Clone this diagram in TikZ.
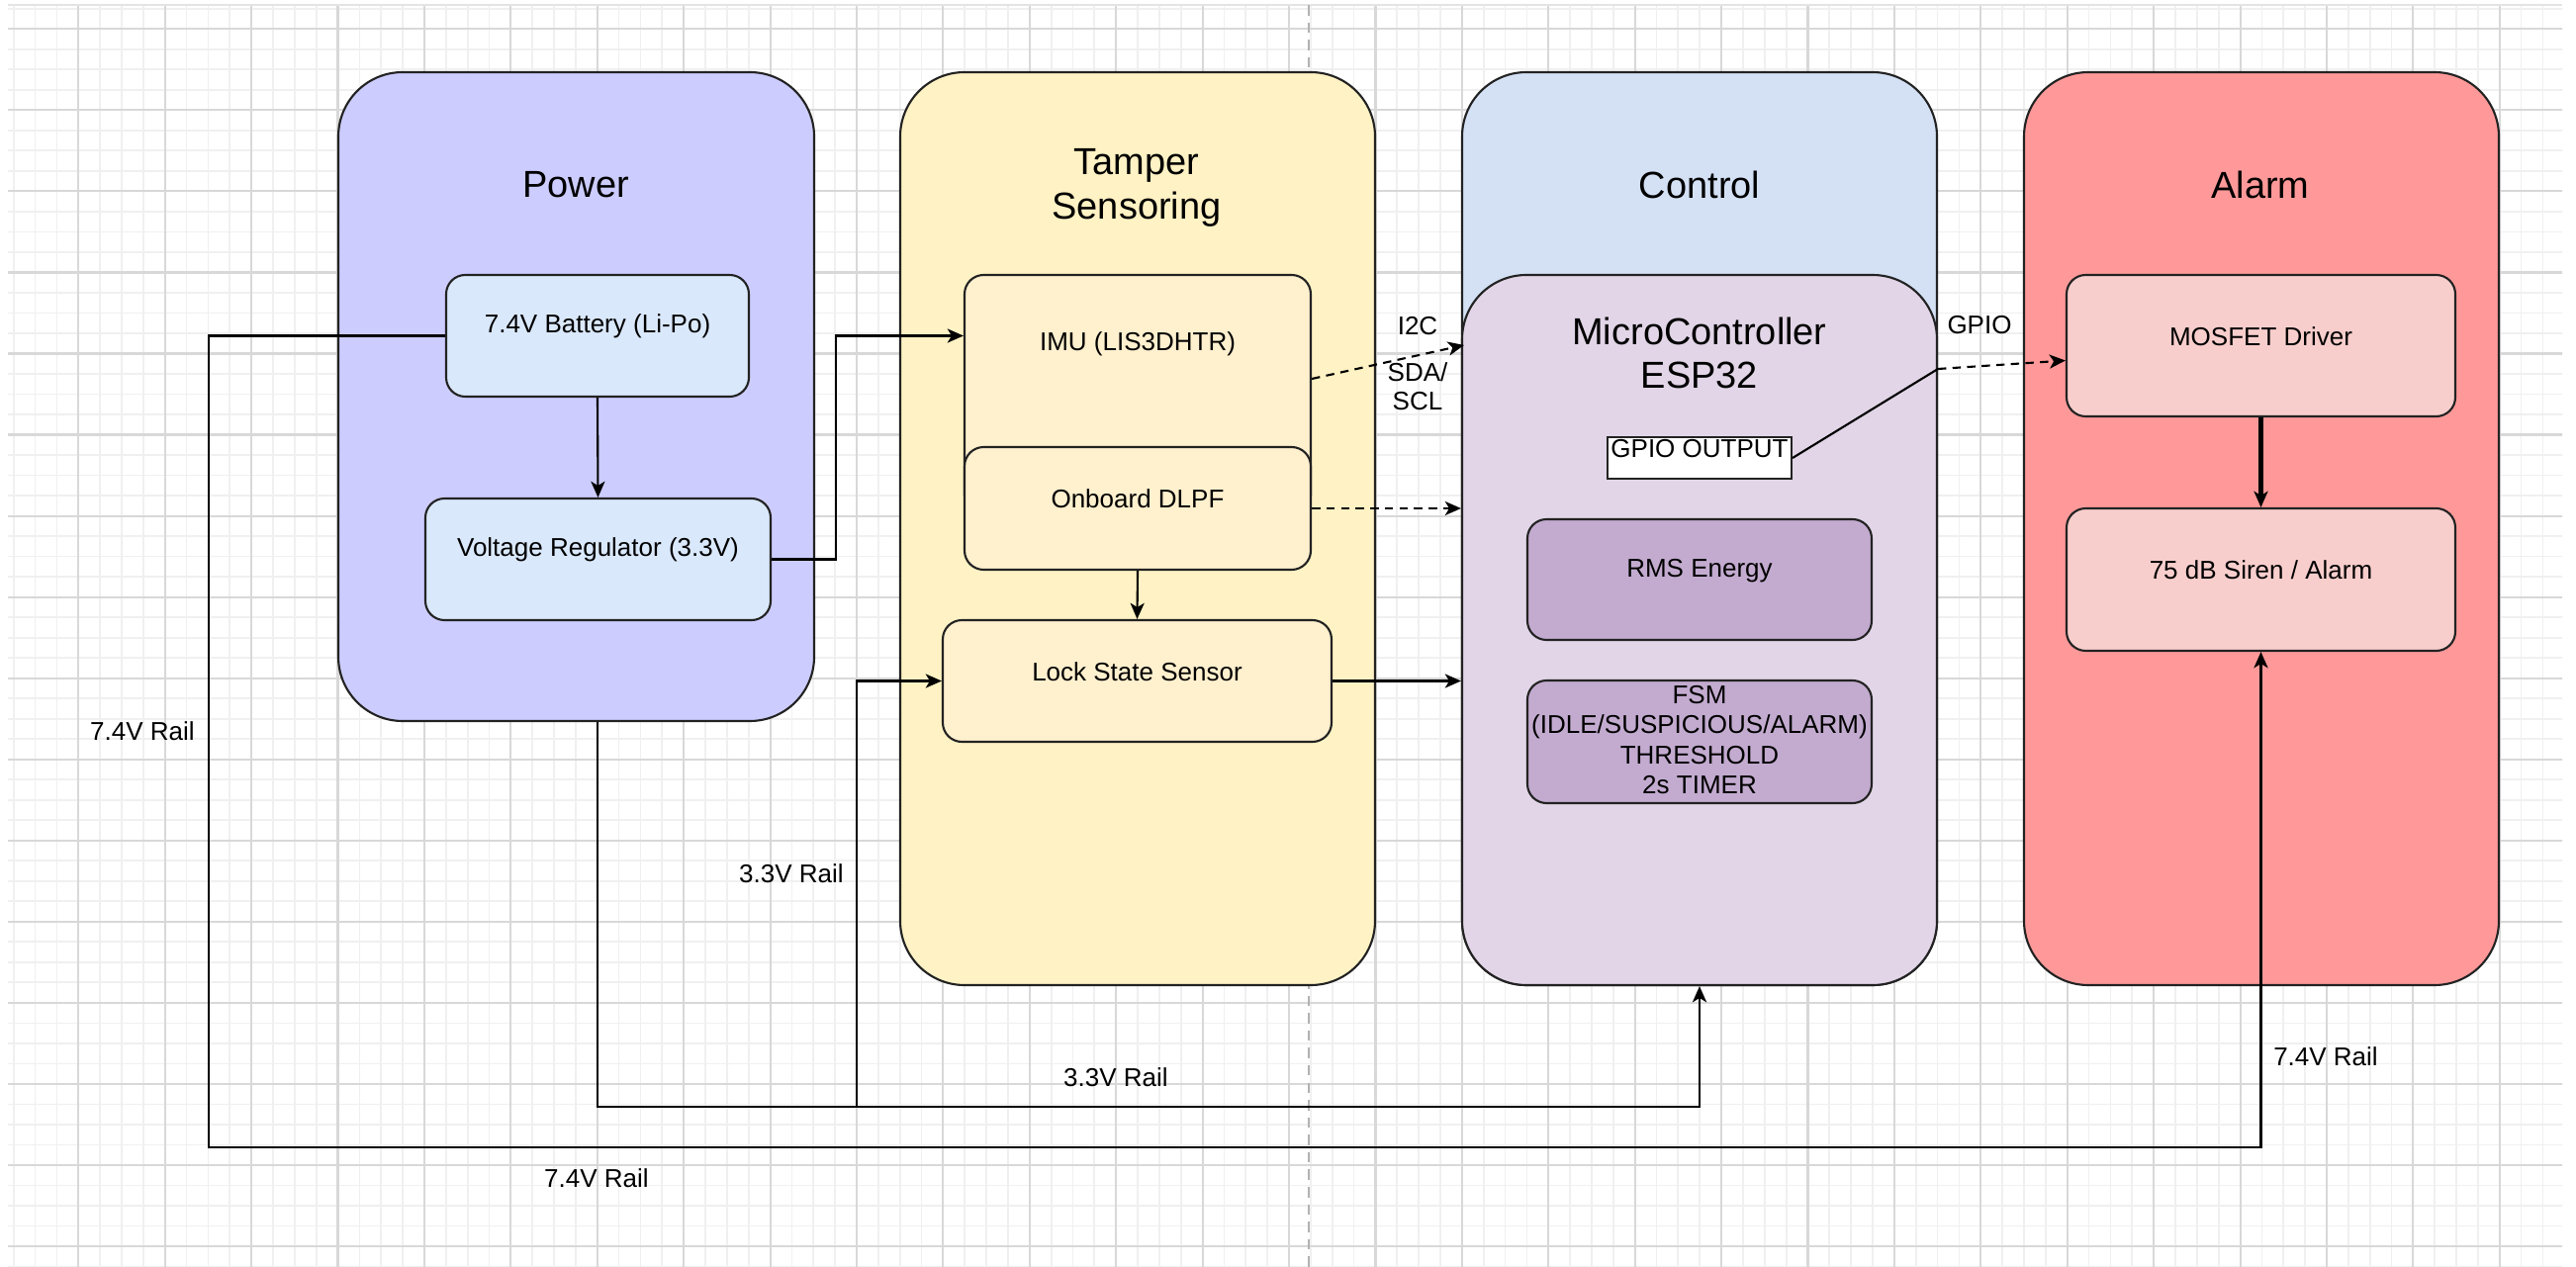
\documentclass[tikz,border=0pt]{standalone}
\usepackage{fontspec}
\setmainfont{Liberation Sans}
\usetikzlibrary{arrows.meta,fit,calc}
\definecolor{edgec}{HTML}{222222}
\definecolor{powerfill}{HTML}{CCCCFF}
\definecolor{bluebox}{HTML}{DAE8FC}
\definecolor{tamperfill}{HTML}{FFF2C4}
\definecolor{yelbox}{HTML}{FFF0CE}
\definecolor{controlfill}{HTML}{D4E1F5}
\definecolor{mcfill}{HTML}{E1D5E7}
\definecolor{purbox}{HTML}{C3ABD0}
\definecolor{alarmfill}{HTML}{FF9999}
\definecolor{pinkbox}{HTML}{F8CECC}
\definecolor{gridminor}{HTML}{F0F0F0}
\definecolor{gridmajor}{HTML}{D8D8D8}
\begin{document}
\begin{tikzpicture}[x=0.1mm,y=-0.1mm,
  container/.style={draw=edgec, line width=0.6pt, rounded corners=18.5pt, inner sep=0pt},
  inbox/.style={draw=edgec, line width=0.6pt, rounded corners=5.5pt, inner sep=0pt,
     font=\fontsize{7.4}{8.6}\selectfont, align=center},
  ttl/.style={font=\fontsize{10.8}{12.6}\selectfont, align=center, inner sep=0pt},
  lbl/.style={font=\fontsize{7.4}{8.3}\selectfont, align=center, inner sep=0pt},
  conn/.style={draw=black, line width=0.6pt, -{Stealth[length=4.6pt,width=4pt,inset=1.2pt]}},
  wire/.style={draw=black, line width=0.6pt},
  dconn/.style={conn, dash pattern=on 2.4pt off 1.8pt},
  railw/.style={conn, line width=0.8pt}
]
\useasboundingbox (0,0) rectangle (2604,1281);
\fill[white] (0,0) rectangle (2604,1281);
% background grid
\begin{scope}
\clip (8,5) rectangle (2590,1281);
\foreach \i in {-4,...,116} \draw[gridminor, line width=0.5pt] ({79.3+\i*21.852},0) -- ({79.3+\i*21.852},1281);
\foreach \j in {-3,...,62} \draw[gridminor, line width=0.5pt] (0,{29.3+\j*20.512}) -- (2604,{29.3+\j*20.512});
\foreach \i in {-1,...,29} \draw[gridmajor, line width=0.6pt] ({79.3+\i*87.41},0) -- ({79.3+\i*87.41},1281);
\foreach \j in {-1,...,15} \draw[gridmajor, line width=0.6pt] (0,{29.3+\j*82.05}) -- (2604,{29.3+\j*82.05});
\end{scope}
\draw[gridmajor!70, line width=0.6pt] (8,5) -- (2590,5);
% page break
\draw[gray!60, line width=0.6pt, dash pattern=on 3pt off 2pt] (1323,5) -- (1323,1281);

% containers
\node[container, fill=powerfill, fit={(342,73) (823,729)}] (power) {};
\node[ttl] (powert) at (582,187) {Power};
\node[container, fill=tamperfill, fit={(910,73) (1390,996)}] (tamper) {};
\node[ttl] (tampert) at (1149,190) {Tamper\\Sensoring};
\node[container, fill=controlfill, fit={(1478,73) (1958,996)}] (control) {};
\node[ttl] (controlt) at (1718,187) {Control};
\node[container, fill=alarmfill, fit={(2046,73) (2526,996)}] (alarm) {};
\node[ttl] (alarmt) at (2285,187) {Alarm};

% power
\node[inbox, fill=bluebox, fit={(451,278) (757,401)}] (bat) {7.4V Battery (Li-Po)};
\node[inbox, fill=bluebox, fit={(430,504) (779,627)}] (reg) {Voltage Regulator (3.3V)};

% tamper
\node[inbox, fill=yelbox, fit={(975,278) (1325,520)}] (imu) {};
\node[lbl] (imut) at (1150,348) {IMU (LIS3DHTR)};
\node[inbox, fill=yelbox, fit={(975,452) (1325,576)}] (dlpf) {Onboard DLPF};
\node[inbox, fill=yelbox, fit={(953,627) (1346,750)}] (lock) {Lock State Sensor};

% control
\node[container, fill=mcfill, fit={(1478,278) (1958,996)}] (mc) {};
\node[ttl] (mct) at (1718,357) {MicroController\\ESP32};
\node[draw=edgec, fill=white, line width=0.6pt, inner sep=0pt, lbl, fit={(1625,442) (1811,484)}] (gpio) {GPIO OUTPUT};
\node[inbox, fill=purbox, fit={(1544,525) (1892,647)}] (rms) {RMS Energy};
\node[inbox, fill=purbox, fit={(1544,688) (1892,812)}] (fsm) {};
\node[lbl, font=\fontsize{7.4}{8.7}\selectfont] (fsmt) at (1718,748) {FSM\\(IDLE/SUSPICIOUS/ALARM)\\THRESHOLD\\2s TIMER};

% alarm
\node[inbox, fill=pinkbox, fit={(2089,278) (2482,421)}] (mosfet) {MOSFET Driver};
\node[inbox, fill=pinkbox, fit={(2089,514) (2482,658)}] (siren) {75 dB Siren / Alarm};

% connectors
\draw[conn] (bat.south) -- (reg.north);
\coordinate (r74) at (211,1160);
\draw[railw] (bat.west) -| (r74) -| (siren.south);
\draw[conn] (reg.east) -- ++(65,0) |- (imu.west |- bat.west);
\coordinate (j33) at (866,1119);
\draw[railw] (bat.south |- power.south) |- (j33) -| (mc.south);
\draw[conn] (j33) |- (lock.west);
\draw[conn] (dlpf.south) -- (lock.north);
\draw[dconn] (imu.east |- 0,383) -- ($(mc.north west)+(3,72)$);
\draw[dconn] (dlpf.east) -- (mc.west |- dlpf.east);
\draw[conn] (lock.east) -- (mc.west |- lock.east);
\coordinate (gbend) at (1959,373);
\draw[wire] (gpio.east) -- (gbend);
\draw[dconn] (gbend) -- ($(mosfet.west)+(0,15)$);
\draw[conn, line width=1.3pt] (mosfet.south) -- (siren.north);

% labels
\node[lbl] (l1) at (1433,330) {I2C};
\node[lbl] (l2) at (1433,391) {SDA/\\SCL};
\node[lbl] (l3) at (2001,329) {GPIO};
\node[lbl] (l4) at (144,739) {7.4V Rail};
\node[lbl] (l5) at (603,1191) {7.4V Rail};
\node[lbl] (l6) at (2351,1068) {7.4V Rail};
\node[lbl] (l7) at (800,883) {3.3V Rail};
\node[lbl] (l8) at (1128,1089) {3.3V Rail};
\end{tikzpicture}
\end{document}
